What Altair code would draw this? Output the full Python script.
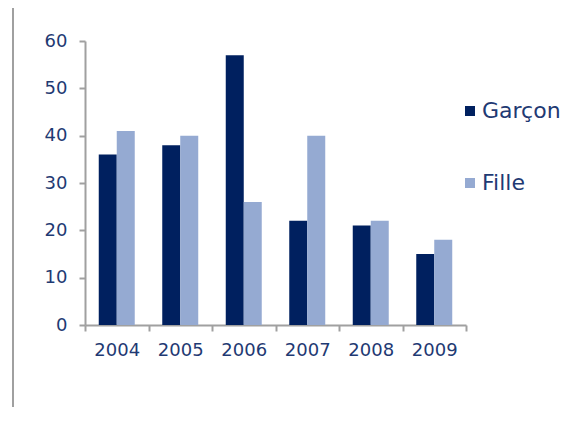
import altair as alt
import pandas as pd

years = ["2004", "2005", "2006", "2007", "2008", "2009"]
garcon = [36, 38, 57, 22, 21, 15]
fille = [41, 40, 26, 40, 22, 18]
series = ["Garçon", "Fille"]
colors = ["#00205F", "#95AAD2"]

rows = []
for i, y in enumerate(years):
    rows.append({"annee": y, "sexe": series[0], "valeur": garcon[i]})
    rows.append({"annee": y, "sexe": series[1], "valeur": fille[i]})
df = pd.DataFrame(rows)

FONT = "DejaVu Sans"
TXT = "#1F3A73"
GRID = "#A0A0A0"

bars = alt.Chart(df).mark_bar().encode(
    x=alt.X("annee:N", sort=years, title=None,
            scale=alt.Scale(paddingInner=0, paddingOuter=0),
            axis=alt.Axis(labelAngle=0, tickBand="extent", labelFont=FONT,
                          labelFontSize=18, labelColor=TXT, labelPadding=10,
                          domainColor=GRID, tickColor=GRID, domainWidth=2,
                          tickWidth=2, tickSize=6)),
    xOffset=alt.XOffset("sexe:N", sort=series,
                        scale=alt.Scale(paddingInner=0, paddingOuter=0.764)),
    y=alt.Y("valeur:Q", title=None,
            scale=alt.Scale(domain=[0, 60], nice=False),
            axis=alt.Axis(values=[0, 10, 20, 30, 40, 50, 60], grid=False,
                          labelFont=FONT, labelFontSize=18, labelColor=TXT,
                          labelPadding=12, domainColor=GRID, tickColor=GRID,
                          domainWidth=2, tickWidth=2, tickSize=6)),
    color=alt.Color("sexe:N", sort=series,
                    scale=alt.Scale(domain=series, range=colors),
                    legend=alt.Legend(title=None, orient="none", legendX=374,
                                      legendY=59, symbolType="square",
                                      symbolSize=100, symbolStrokeWidth=0,
                                      labelFont=FONT, labelFontSize=22,
                                      labelColor=TXT, rowPadding=50,
                                      labelOffset=1)),
)

frame = alt.Chart(pd.DataFrame({"v": [0]})).mark_rule(color=GRID, strokeWidth=2).encode(
    x=alt.value(-72), y=alt.value(-40), y2=alt.value(380)
)

chart = alt.layer(frame, bars).properties(
    width=381, height=284, background="white",
    autosize=alt.AutoSizeParams(type="none"),
    padding={"left": 77, "top": 33, "right": 111, "bottom": 82},
).configure_view(strokeWidth=0, stroke="transparent")

chart.save("out.html", embed_options={"renderer": "svg", "actions": False})
